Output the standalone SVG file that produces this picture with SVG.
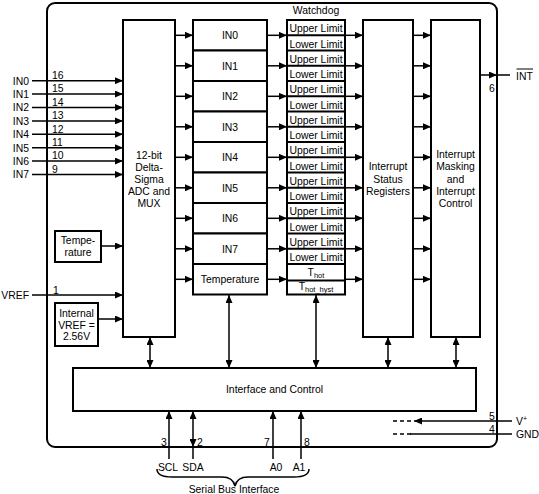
<svg xmlns="http://www.w3.org/2000/svg" width="539" height="494" viewBox="0 0 539 494">
<defs>
<marker id="ah" viewBox="0 0 8 7" refX="8" refY="3.5" markerWidth="8" markerHeight="7" markerUnits="userSpaceOnUse" orient="auto-start-reverse">
<path d="M0,0 L8,3.5 L0,7 Z" fill="#000"/>
</marker>
</defs>
<style>
text{font-family:"Liberation Sans",Arial,sans-serif;font-size:10.4px;fill:#000}
.c{text-anchor:middle}
.r{text-anchor:end}
.box{fill:#fff;stroke:#000;stroke-width:2}
.ln{stroke:#000;stroke-width:1.5;fill:none}
.a{stroke:#000;stroke-width:1.5;fill:none;marker-end:url(#ah)}
.d{stroke:#000;stroke-width:1.5;fill:none;marker-end:url(#ah);marker-start:url(#ah)}
.dash{stroke:#000;stroke-width:1.5;fill:none;stroke-dasharray:4,3}
.div{stroke:#000;stroke-width:2}
</style>
<rect id="frame" x="47" y="3" width="450" height="444" rx="8" ry="8" fill="none" stroke="#000" stroke-width="2"/>

<g id="connectors">
<!-- input pins -->
<line class="a" x1="32" y1="80.7" x2="123" y2="80.7"/>
<line class="a" x1="32" y1="94.1" x2="123" y2="94.1"/>
<line class="a" x1="32" y1="107.5" x2="123" y2="107.5"/>
<line class="a" x1="32" y1="120.9" x2="123" y2="120.9"/>
<line class="a" x1="32" y1="134.3" x2="123" y2="134.3"/>
<line class="a" x1="32" y1="147.7" x2="123" y2="147.7"/>
<line class="a" x1="32" y1="161.1" x2="123" y2="161.1"/>
<line class="a" x1="32" y1="174.5" x2="123" y2="174.5"/>
<line class="a" x1="32" y1="295" x2="123" y2="295"/>
<line class="a" x1="101" y1="246" x2="123" y2="246"/>
<line class="a" x1="98" y1="319" x2="123" y2="319"/>
<!-- ADC to IN boxes -->
<line class="a" x1="175" y1="35.3" x2="193" y2="35.3"/>
<line class="a" x1="175" y1="65.8" x2="193" y2="65.8"/>
<line class="a" x1="175" y1="96.3" x2="193" y2="96.3"/>
<line class="a" x1="175" y1="126.8" x2="193" y2="126.8"/>
<line class="a" x1="175" y1="157.3" x2="193" y2="157.3"/>
<line class="a" x1="175" y1="187.8" x2="193" y2="187.8"/>
<line class="a" x1="175" y1="218.3" x2="193" y2="218.3"/>
<line class="a" x1="175" y1="248.8" x2="193" y2="248.8"/>
<line class="a" x1="175" y1="279.3" x2="193" y2="279.3"/>
<!-- IN boxes to watchdog -->
<line class="a" x1="267" y1="35.3" x2="287" y2="35.3"/>
<line class="a" x1="267" y1="65.8" x2="287" y2="65.8"/>
<line class="a" x1="267" y1="96.3" x2="287" y2="96.3"/>
<line class="a" x1="267" y1="126.8" x2="287" y2="126.8"/>
<line class="a" x1="267" y1="157.3" x2="287" y2="157.3"/>
<line class="a" x1="267" y1="187.8" x2="287" y2="187.8"/>
<line class="a" x1="267" y1="218.3" x2="287" y2="218.3"/>
<line class="a" x1="267" y1="248.8" x2="287" y2="248.8"/>
<line class="a" x1="267" y1="279.3" x2="287" y2="279.3"/>
<!-- watchdog to status -->
<line class="a" x1="345" y1="35.3" x2="363" y2="35.3"/>
<line class="a" x1="345" y1="65.8" x2="363" y2="65.8"/>
<line class="a" x1="345" y1="96.3" x2="363" y2="96.3"/>
<line class="a" x1="345" y1="126.8" x2="363" y2="126.8"/>
<line class="a" x1="345" y1="157.3" x2="363" y2="157.3"/>
<line class="a" x1="345" y1="187.8" x2="363" y2="187.8"/>
<line class="a" x1="345" y1="218.3" x2="363" y2="218.3"/>
<line class="a" x1="345" y1="248.8" x2="363" y2="248.8"/>
<line class="a" x1="345" y1="279.3" x2="363" y2="279.3"/>
<!-- status to masking -->
<line class="a" x1="413" y1="35.3" x2="431" y2="35.3"/>
<line class="a" x1="413" y1="65.8" x2="431" y2="65.8"/>
<line class="a" x1="413" y1="96.3" x2="431" y2="96.3"/>
<line class="a" x1="413" y1="126.8" x2="431" y2="126.8"/>
<line class="a" x1="413" y1="157.3" x2="431" y2="157.3"/>
<line class="a" x1="413" y1="187.8" x2="431" y2="187.8"/>
<line class="a" x1="413" y1="218.3" x2="431" y2="218.3"/>
<line class="a" x1="413" y1="248.8" x2="431" y2="248.8"/>
<line class="a" x1="413" y1="279.3" x2="431" y2="279.3"/>
<!-- INT output -->
<line class="a" x1="480" y1="75" x2="497" y2="75"/>
<line class="ln" x1="497" y1="75" x2="510" y2="75"/>
<!-- to interface -->
<line class="d" x1="150" y1="337" x2="150" y2="368"/>
<line class="d" x1="229" y1="295" x2="229" y2="368"/>
<line class="d" x1="316" y1="295" x2="316" y2="368"/>
<line class="d" x1="388" y1="337" x2="388" y2="368"/>
<line class="d" x1="456" y1="337" x2="456" y2="368"/>
<!-- bottom pins -->
<line class="a" x1="169" y1="459" x2="169" y2="411"/>
<line class="d" x1="193" y1="447" x2="193" y2="411"/>
<line class="ln" x1="193" y1="447" x2="193" y2="459"/>
<line class="a" x1="273" y1="459" x2="273" y2="411"/>
<line class="a" x1="301" y1="459" x2="301" y2="411"/>
<!-- power -->
<line class="dash" x1="393" y1="421" x2="412" y2="421"/>
<line class="a" x1="512" y1="421" x2="414" y2="421"/>
<line class="dash" x1="393" y1="434" x2="412" y2="434"/>
<line class="ln" x1="410" y1="434" x2="512" y2="434"/>
<!-- brace -->
<path class="ln" stroke-width="1" d="M157,469 Q157,477 172,477 L222,477 Q233,477 235,486 Q237,477 248,477 L294,477 Q309,477 309,469"/>
</g>

<g id="pin-labels">
<text class="r" x="29" y="84.5">IN0</text>
<text class="r" x="29" y="97.9">IN1</text>
<text class="r" x="29" y="111.3">IN2</text>
<text class="r" x="29" y="124.7">IN3</text>
<text class="r" x="29" y="138.1">IN4</text>
<text class="r" x="29" y="151.5">IN5</text>
<text class="r" x="29" y="164.9">IN6</text>
<text class="r" x="29" y="178.3">IN7</text>
<text x="52" y="79">16</text>
<text x="52" y="92.4">15</text>
<text x="52" y="105.8">14</text>
<text x="52" y="119.2">13</text>
<text x="52" y="132.6">12</text>
<text x="52" y="146">11</text>
<text x="52" y="159.4">10</text>
<text x="52" y="172.8">9</text>
<text class="r" x="29" y="299">VREF</text>
<text x="53" y="293.5">1</text>
<text x="516" y="79.5">INT</text>
<line x1="516.5" y1="69" x2="533" y2="69" stroke="#000" stroke-width="1"/>
<text class="c" x="492" y="92">6</text>
<text class="c" x="164" y="446">3</text>
<text class="c" x="200" y="446">2</text>
<text class="c" x="267" y="446">7</text>
<text class="c" x="307" y="446">8</text>
<text class="c" x="168" y="471">SCL</text>
<text class="c" x="193" y="471">SDA</text>
<text class="c" x="276" y="471">A0</text>
<text class="c" x="299" y="471">A1</text>
<text class="c" x="234" y="493">Serial Bus Interface</text>
<text class="c" x="492" y="419.5">5</text>
<text class="c" x="492" y="432.5">4</text>
<text x="516" y="425">V<tspan font-size="7" dy="-4">+</tspan></text>
<text x="516" y="438">GND</text>
</g>

<g id="adc">
<rect class="box" x="123" y="20" width="52" height="317"/>
<text class="c" x="149" y="159">12-bit</text>
<text class="c" x="149" y="171">Delta-</text>
<text class="c" x="149" y="183">Sigma</text>
<text class="c" x="149" y="195">ADC and</text>
<text class="c" x="149" y="207">MUX</text>
</g>

<g id="temp-sensor">
<rect class="box" x="55" y="231" width="46" height="31"/>
<text class="c" x="78" y="244">Tempe-</text>
<text class="c" x="78" y="256">rature</text>
</g>

<g id="internal-vref">
<rect class="box" x="55" y="303" width="43" height="43"/>
<text class="c" x="76.5" y="317">Internal</text>
<text class="c" x="76.5" y="328.5">VREF =</text>
<text class="c" x="76.5" y="340">2.56V</text>
</g>

<g id="registers">
<rect class="box" x="193" y="20" width="74" height="30.5"/>
<text class="c" x="230" y="39">IN0</text>
<rect class="box" x="193" y="50.5" width="74" height="30.5"/>
<text class="c" x="230" y="69.5">IN1</text>
<rect class="box" x="193" y="81" width="74" height="30.5"/>
<text class="c" x="230" y="100">IN2</text>
<rect class="box" x="193" y="111.5" width="74" height="30.5"/>
<text class="c" x="230" y="130.5">IN3</text>
<rect class="box" x="193" y="142" width="74" height="30.5"/>
<text class="c" x="230" y="161">IN4</text>
<rect class="box" x="193" y="172.5" width="74" height="30.5"/>
<text class="c" x="230" y="191.5">IN5</text>
<rect class="box" x="193" y="203" width="74" height="30.5"/>
<text class="c" x="230" y="222">IN6</text>
<rect class="box" x="193" y="233.5" width="74" height="30.5"/>
<text class="c" x="230" y="252.5">IN7</text>
<rect class="box" x="193" y="264" width="74" height="30.5"/>
<text class="c" x="230" y="283">Temperature</text>
</g>

<g id="watchdog">
<text class="c" x="316" y="14">Watchdog</text>
<rect class="box" x="287" y="20" width="58" height="274.5"/>
<line class="div" x1="287" y1="35.3" x2="345" y2="35.3"/>
<line class="div" x1="287" y1="50.5" x2="345" y2="50.5"/>
<line class="div" x1="287" y1="65.8" x2="345" y2="65.8"/>
<line class="div" x1="287" y1="81" x2="345" y2="81"/>
<line class="div" x1="287" y1="96.3" x2="345" y2="96.3"/>
<line class="div" x1="287" y1="111.5" x2="345" y2="111.5"/>
<line class="div" x1="287" y1="126.8" x2="345" y2="126.8"/>
<line class="div" x1="287" y1="142" x2="345" y2="142"/>
<line class="div" x1="287" y1="157.3" x2="345" y2="157.3"/>
<line class="div" x1="287" y1="172.5" x2="345" y2="172.5"/>
<line class="div" x1="287" y1="187.8" x2="345" y2="187.8"/>
<line class="div" x1="287" y1="203" x2="345" y2="203"/>
<line class="div" x1="287" y1="218.3" x2="345" y2="218.3"/>
<line class="div" x1="287" y1="233.5" x2="345" y2="233.5"/>
<line class="div" x1="287" y1="248.8" x2="345" y2="248.8"/>
<line class="div" x1="287" y1="264" x2="345" y2="264"/>
<line class="div" x1="287" y1="280.5" x2="345" y2="280.5"/>
<text class="c" x="316" y="32.2">Upper Limit</text>
<text class="c" x="316" y="47.5">Lower Limit</text>
<text class="c" x="316" y="62.7">Upper Limit</text>
<text class="c" x="316" y="78">Lower Limit</text>
<text class="c" x="316" y="93.2">Upper Limit</text>
<text class="c" x="316" y="108.5">Lower Limit</text>
<text class="c" x="316" y="123.7">Upper Limit</text>
<text class="c" x="316" y="139">Lower Limit</text>
<text class="c" x="316" y="154.2">Upper Limit</text>
<text class="c" x="316" y="169.5">Lower Limit</text>
<text class="c" x="316" y="184.7">Upper Limit</text>
<text class="c" x="316" y="200">Lower Limit</text>
<text class="c" x="316" y="215.2">Upper Limit</text>
<text class="c" x="316" y="230.5">Lower Limit</text>
<text class="c" x="316" y="245.7">Upper Limit</text>
<text class="c" x="316" y="261">Lower Limit</text>
<text class="c" x="316" y="275.5">T<tspan font-size="7.5" dy="2">hot</tspan></text>
<text class="c" x="316" y="289.5">T<tspan font-size="7.5" dy="2">hot_hyst</tspan></text>
</g>

<g id="status">
<rect class="box" x="363" y="20" width="50" height="317"/>
<text class="c" x="388" y="170">Interrupt</text>
<text class="c" x="388" y="182.5">Status</text>
<text class="c" x="388" y="195">Registers</text>
</g>

<g id="masking">
<rect class="box" x="431" y="20" width="49" height="317"/>
<text class="c" x="455.5" y="158">Interrupt</text>
<text class="c" x="455.5" y="170.3">Masking</text>
<text class="c" x="455.5" y="182.6">and</text>
<text class="c" x="455.5" y="194.9">Interrupt</text>
<text class="c" x="455.5" y="207.2">Control</text>
</g>

<g id="interface">
<rect class="box" x="73" y="368" width="403" height="43"/>
<text class="c" x="274.5" y="393">Interface and Control</text>
</g>
</svg>
